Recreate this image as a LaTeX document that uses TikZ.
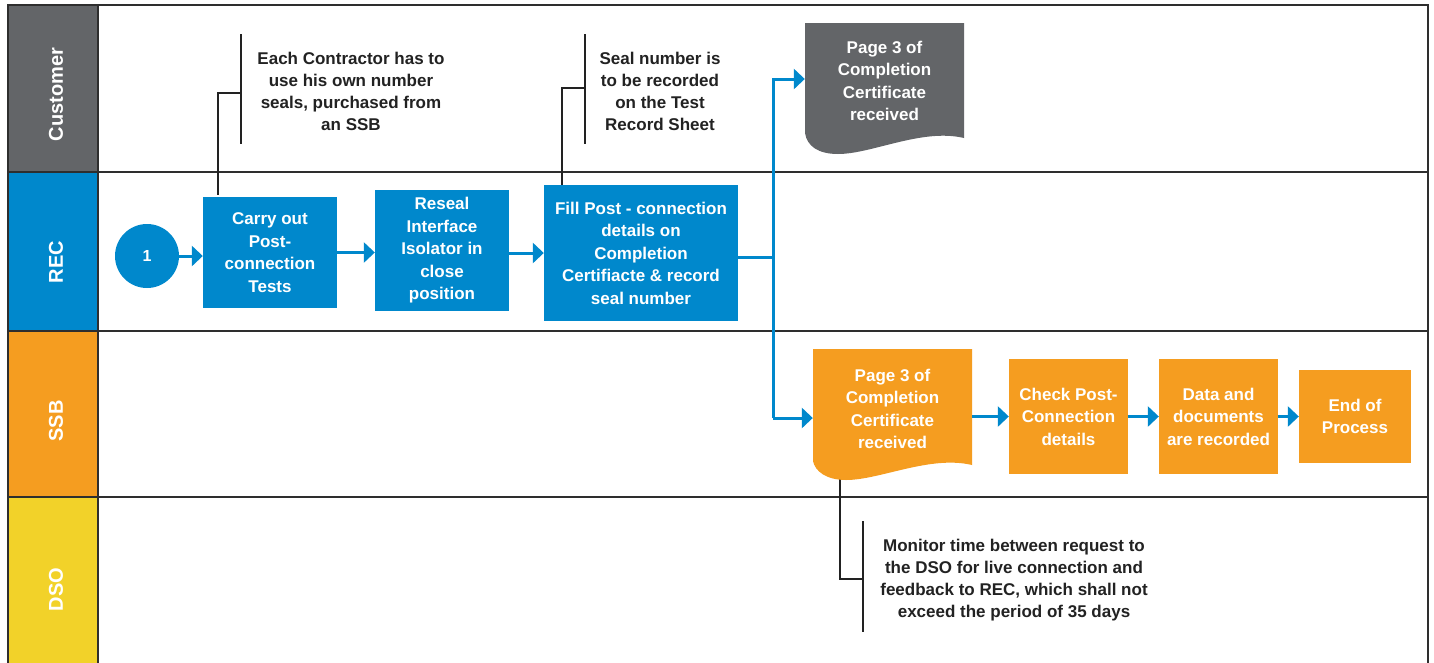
\documentclass[tikz,border=0pt]{standalone}
\usepackage{fontspec}
\setmainfont{Liberation Sans}
\usetikzlibrary{arrows.meta}
\definecolor{cgray}{HTML}{636568}
\definecolor{cblue}{HTML}{0088CC}
\definecolor{corange}{HTML}{F59D20}
\definecolor{cyellow}{HTML}{F2D229}
\definecolor{cframe}{HTML}{2E2E2E}
\definecolor{ctext}{HTML}{222222}
\begin{document}
\begin{tikzpicture}[x=1pt,y=-1pt,
  lanelabel/.style={text=white,font=\fontsize{20}{24}\selectfont\bfseries,rotate=90,inner sep=0},
  procbox/.style={text=white,font=\fontsize{17}{22.5}\selectfont\bfseries,align=center,inner sep=0},
  bluebox/.style={procbox,fill=cblue},
  orangebox/.style={procbox,fill=corange},
  doctext/.style={procbox},
  notetext/.style={text=ctext,font=\fontsize{17}{22}\selectfont\bfseries,align=center,inner sep=0},
  note/.style={draw=ctext,line width=1.5pt},
  flow/.style={draw=cblue,line width=3pt,-{Triangle[length=11pt,width=20pt]}},
  flowline/.style={draw=cblue,line width=3pt},
  frame/.style={draw=cframe,line width=2.6pt}]
\useasboundingbox (0,0) rectangle (1434,662);
\fill[white] (0,0) rectangle (1434,662);
% lane label fills
\fill[cgray] (8,5) rectangle (98,172);
\fill[cblue] (8,172) rectangle (98,331);
\fill[corange] (8,331) rectangle (98,497);
\fill[cyellow] (8,497) rectangle (98,672);
% frame
\draw[frame] (8,672) -- (8,5) -- (1428,5) -- (1428,672);
\draw[frame] (98,5) -- (98,672);
\draw[frame] (8,172) -- (1428,172);
\draw[frame] (8,331) -- (1428,331);
\draw[frame] (8,497) -- (1428,497);
% lane labels
\node[lanelabel] (lcust) at (56,94.5) {Customer};
\node[lanelabel] (lrec) at (56,262) {REC};
\node[lanelabel] (lssb) at (56,421) {SSB};
\node[lanelabel] (ldso) at (56,589.5) {DSO};
% REC lane
\node[circle,fill=cblue,minimum size=64pt,inner sep=0,text=white,font=\fontsize{16}{18}\selectfont\bfseries] (start) at (147,256) {1};
\node[bluebox,minimum width=134pt,minimum height=111pt] (box1) at (270,252.5) {Carry out\\Post-\\connection\\Tests};
\node[bluebox,minimum width=134pt,minimum height=121pt] (box2) at (442,250.5) {Reseal\\Interface\\Isolator in\\close\\position};
\node[bluebox,minimum width=194pt,minimum height=136pt] (box3) at (641,253) {Fill Post - connection\\details on\\Completion\\Certifiacte \& record\\seal number};
% SSB lane boxes
\node[orangebox,minimum width=119pt,minimum height=115pt] (check) at (1068.5,416.5) {Check Post-\\Connection\\details};
\node[orangebox,minimum width=119pt,minimum height=115pt] (data) at (1218.5,416.5) {Data and\\documents\\are recorded};
\node[orangebox,minimum width=112pt,minimum height=93pt] (end) at (1355,416.5) {End of\\Process};
% junctions
\coordinate (junc) at (773,257);
\coordinate (jup) at (773,79);
\coordinate (jdown) at (773,418);
% annotation connectors (behind documents)
\coordinate (a1m) at (241,93);
\coordinate (a2m) at (585,88);
\coordinate (a3m) at (863,579);
\draw[note] (a1m) -| ([xshift=15pt,yshift=2pt]box1.north west);
\draw[note] (a2m) -| ([xshift=18pt]box3.north west);
% document nodes
\node[minimum width=159pt,minimum height=115pt,inner sep=0] (gdoc) at (884.5,80.5) {};
\node[minimum width=159pt,minimum height=116pt,inner sep=0] (odoc) at (892.5,407) {};
\draw[note] ([xshift=27pt]odoc.south west) |- (a3m);
\fill[cgray] (805,23) -- (964,23) -- (964,138) .. controls (922,128) and (872,154) .. (838,154) .. controls (818,154) and (807,146) .. (805,133) -- cycle;
\fill[corange] (813,349) -- (972,349) -- (972,465) .. controls (930,455) and (880,480) .. (846,480) .. controls (826,480) and (815,471) .. (813,461) -- cycle;
\node[doctext] (gdoct) at (884.5,81) {Page 3 of\\Completion\\Certificate\\received};
\node[doctext] (odoct) at (892.5,409) {Page 3 of\\Completion\\Certificate\\received};
% annotation brackets and texts
\draw[note] (241,34) -- (241,144);
\node[notetext] (ann1) at (351,91) {Each Contractor has to\\use his own number\\seals, purchased from\\an SSB};
\draw[note] (585,34) -- (585,144);
\node[notetext] (ann2) at (660,91) {Seal number is\\to be recorded\\on the Test\\Record Sheet};
\draw[note] (863,521) -- (863,632);
\node[notetext] (ann3) at (1014,580.5) {Monitor time between request to\\the DSO for live connection and\\feedback to REC, which shall not\\exceed the period of 35 days};
% flows
\draw[flow] (start.east) -- (box1.west |- start.east);
\draw[flow] (box1.east) -- (box1.east -| box2.west);
\draw[flow] (box2.east |- box3.west) -- (box3.west);
\draw[flowline] (box3.east |- junc) -- (junc);
\draw[flow] (jdown) |- (jup) -- (jup -| gdoc.west);
\draw[flow] (jdown) -- (jdown -| odoc.west);
\draw[flow] (check.west -| odoc.east) -- (check.west);
\draw[flow] (check.east) -- (data.west);
\draw[flow] (data.east) -- (end.west);
\end{tikzpicture}
\end{document}
